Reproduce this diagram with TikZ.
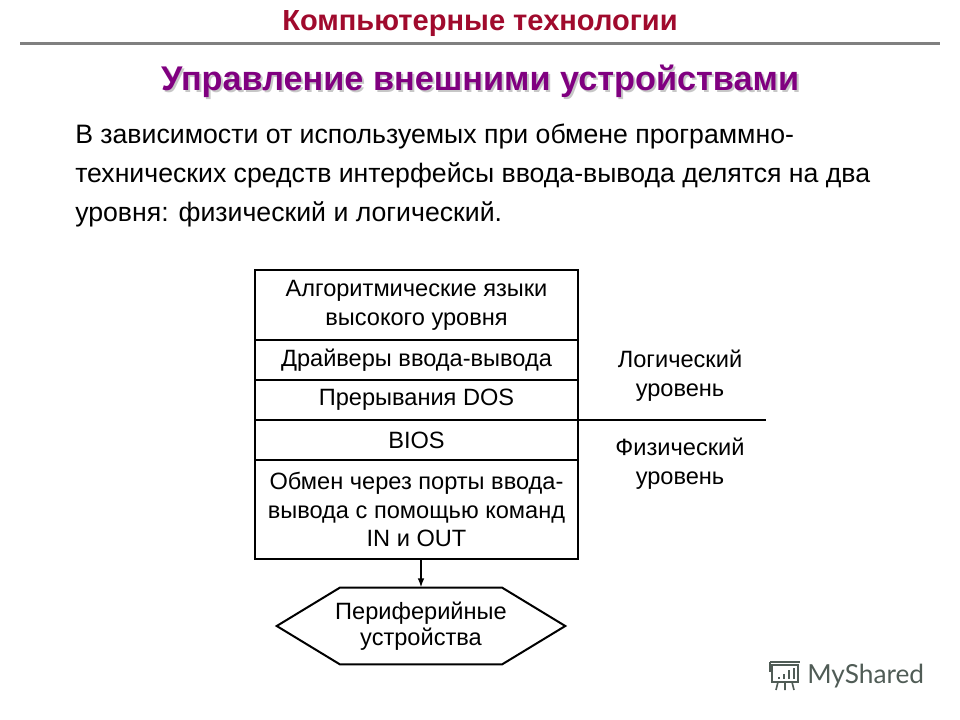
\documentclass[tikz,border=0pt]{standalone}
\usepackage{fontspec}
\setmainfont{Liberation Sans}
\newfontfamily\logofont{Lato}
\usetikzlibrary{calc,arrows.meta}
\definecolor{titlered}{RGB}{160,10,45}
\definecolor{titlepurple}{RGB}{128,0,128}
\definecolor{rulegray}{RGB}{128,128,128}
\definecolor{logogray}{RGB}{80,92,86}
\tikzset{
	layer/.style={draw, line width=1.5pt, minimum width=242.25pt, inner sep=0pt, outer sep=0pt, align=center, font=\fontsize{17.7}{21.5}\selectfont},
	levellabel/.style={align=center, font=\fontsize{17.7}{22}\selectfont},
	headfont/.style={font=\bfseries\fontsize{25.7}{28}\selectfont},
}

\begin{document}
\begin{tikzpicture}[x=0.75pt, y=-0.75pt]
			%%%%% START %%%%%
			\useasboundingbox (0,0) rectangle (960,720);
			
			\node[font=\bfseries\fontsize{21.8}{24}\selectfont, text=titlered] (head) at (480,24) {Компьютерные технологии};
			\draw[line width=2.25pt, color=rulegray] (20,44) -- (940,44);
			
			\node[headfont, text=black!22] (titleshadow) at (482,83) {Управление внешними устройствами};
			\node[headfont, text=titlepurple] (title) at (480,81) {Управление внешними устройствами};
			
			\node[anchor=north west, align=left, inner sep=0pt, font=\fontsize{20}{29}\selectfont] (intro) at (75,124) {В зависимости от используемых при обмене программно-\\технических средств интерфейсы ввода-вывода делятся на два\\уровня: физический и логический.};
			
			\node[layer, minimum height=52.5pt] (lang) at (416.5,305) {Алгоритмические языки\\высокого уровня};
			\node[layer, minimum height=30pt] (drivers) at (416.5,360) {Драйверы ввода-вывода};
			\node[layer, minimum height=30pt] (dosint) at (416.5,400) {Прерывания DOS};
			\node[layer, minimum height=30pt] (bios) at (416.5,440) {BIOS};
			\node[layer, minimum height=74.25pt] (ports) at (416.5,509.5) {Обмен через порты ввода-\\вывода с помощью команд\\IN и OUT};
			
			\coordinate (levelend) at (766,420);
			\draw[line width=1.5pt] (dosint.south east) -- (levelend);
			\node[levellabel] (logical) at (680,376) {Логический\\уровень};
			\node[levellabel] (physical) at (680,464) {Физический\\уровень};
			
			\node[inner sep=0pt, minimum width=216pt, minimum height=57pt, align=center, font=\fontsize{17.7}{19.5}\selectfont] (periph) at (421,626) {Периферийные\\устройства};
			\draw[line width=1.5pt] (periph.west) -- ($(periph.north west)+(63,0)$) -- ($(periph.north east)+(-63,0)$) -- (periph.east) -- ($(periph.south east)+(-63,0)$) -- ($(periph.south west)+(63,0)$) -- cycle;
			\draw[line width=1.5pt, -{Latex[length=7pt,width=5pt]}] (periph.north |- ports.south) -- (periph.north);
			
			% logo
			\draw[logogray, line width=1.2pt] (772,665) rectangle (798,682);
			\draw[logogray, line width=1.5pt] (770,662) -- (800,662);
			\draw[logogray, line width=1.2pt] (770,662) -- (770,672);
			\draw[logogray, line width=1.5pt] (779,679) -- (779,677) (784,679) -- (784,674) (789,679) -- (789,670) (794,679) -- (794,668);
			\draw[logogray, line width=1.2pt] (778,682) -- (776,690) (785,682) -- (785,690) (792,682) -- (794,690);
			\node[anchor=base west, inner sep=0pt, text=logogray, font=\logofont\fontsize{19.7}{20}\selectfont] (logo) at (807,683) {MyShared};
			%%%%% END %%%%%
\end{tikzpicture}
\end{document}
